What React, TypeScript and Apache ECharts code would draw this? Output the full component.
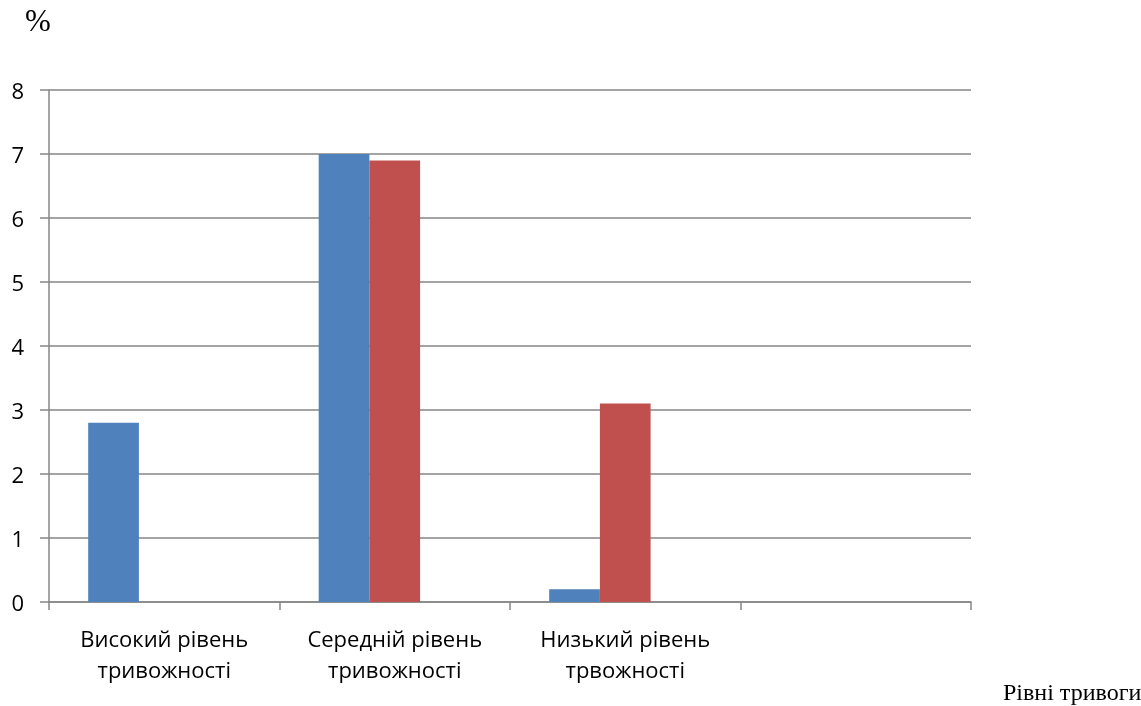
import React, { useEffect, useRef } from "react";
import * as echarts from "echarts";

// Anxiety levels and the two groups' shares (%)
const categories = [
  "Високий рівень\nтривожності",
  "Середній рівень\nтривожності",
  "Низький рівень\nтрвожності",
  "",
];
const seriesA = [2.8, 7.0, 0.2, null];
const seriesB = [0, 6.9, 3.1, null];
const seriesC = [0, 0, 0, null];
const yTicks = { min: 0, max: 8, interval: 1 };

const AXIS_GRAY = "#868686";
const SANS = '"Open Sans", "Noto Sans", sans-serif';
const SERIF = '"Liberation Serif", "DejaVu Serif", serif';

export default function App() {
  const ref = useRef<HTMLDivElement>(null);

  useEffect(() => {
    if (!ref.current) return;
    const chart = echarts.init(ref.current, undefined, { renderer: "svg" });
    chart.setOption({
      animation: false,
      grid: { left: 49, right: 170, top: 90, bottom: 104, containLabel: false },
      xAxis: {
        type: "category",
        data: categories,
        boundaryGap: true,
        axisLine: { show: true, lineStyle: { color: AXIS_GRAY, width: 1.5 } },
        axisTick: { show: true, length: 8, lineStyle: { color: AXIS_GRAY, width: 1.5 } },
        axisLabel: {
          interval: 0,
          margin: 20,
          fontFamily: SANS,
          fontSize: 22,
          lineHeight: 31,
          color: "#000",
        },
        splitLine: { show: false },
      },
      yAxis: {
        type: "value",
        min: yTicks.min,
        max: yTicks.max,
        interval: yTicks.interval,
        axisLine: { show: true, lineStyle: { color: AXIS_GRAY, width: 1.5 } },
        axisTick: { show: true, length: 9, lineStyle: { color: AXIS_GRAY, width: 1.5 } },
        axisLabel: {
          margin: 25,
          fontFamily: SANS,
          fontSize: 22,
          color: "#000",
        },
        splitLine: { show: true, lineStyle: { color: AXIS_GRAY, width: 1.5 } },
      },
      series: [
        {
          type: "bar",
          data: seriesA,
          barGap: "0%",
          barCategoryGap: "34%",
          itemStyle: { color: "#4F81BD" },
        },
        {
          type: "bar",
          data: seriesB,
          itemStyle: { color: "#C0504D" },
        },
        {
          type: "bar",
          data: seriesC,
          itemStyle: { color: "#9BBB59" },
        },
      ],
      graphic: [
        {
          type: "text",
          left: 25,
          top: 5,
          style: { text: "%", font: `31px ${SERIF}`, fill: "#000" },
        },
        {
          type: "text",
          left: 1003,
          top: 680,
          style: { text: "Рівні тривоги", font: `24px ${SERIF}`, fill: "#000" },
        },
      ],
    });
    return () => chart.dispose();
  }, []);

  return (
    <div
      ref={ref}
      style={{ position: "fixed", left: 0, top: 0, width: 1141, height: 706 }}
    />
  );
}
